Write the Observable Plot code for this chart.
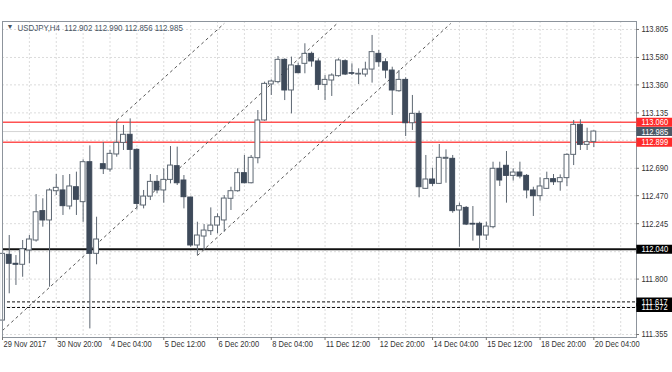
<!DOCTYPE html>
<html>
<head>
<meta charset="utf-8">
<script src="https://cdn.jsdelivr.net/npm/d3@7"></script>
<script src="https://cdn.jsdelivr.net/npm/@observablehq/plot@0.6"></script>
<style>
  html, body { margin: 0; padding: 0; background: #fff; }
  #chart svg { display: block; }
</style>
</head>
<body>
<div id="chart"></div>
<script>
// ---- data (USDJPY H4, bar index 0..88) ----
const opens  = [111.467,111.995,111.923,111.915,112.030,112.110,112.346,112.271,112.506,112.512,
                112.383,112.538,112.418,112.739,112.003,112.723,112.680,112.801,112.894,112.959,
                112.838,112.391,112.463,112.581,112.512,112.597,112.707,112.592,112.455,112.070,
                112.142,112.185,112.230,112.271,112.445,112.506,112.651,112.570,112.771,113.074,
                113.363,113.382,113.561,113.315,113.510,113.529,113.609,113.548,113.360,113.395,
                113.430,113.550,113.454,113.443,113.443,113.483,113.609,113.542,113.475,113.309,
                113.400,113.052,113.127,112.525,112.600,112.565,112.766,112.766,112.351,112.372,
                112.244,112.244,112.150,112.217,112.686,112.710,112.629,112.656,112.629,112.512,
                112.466,112.525,112.603,112.578,112.611,112.798,113.039,112.878,112.902];
const highs  = [112.030,112.150,111.989,112.110,112.150,112.479,112.445,112.525,112.640,112.632,
                112.640,112.659,112.758,112.870,112.297,112.897,112.833,113.074,113.034,113.087,
                112.846,112.512,112.640,112.632,112.686,112.865,112.860,112.632,112.458,112.257,
                112.238,112.372,112.324,112.471,112.538,112.686,112.793,112.793,113.154,113.382,
                113.400,113.588,113.569,113.583,113.534,113.690,113.623,113.569,113.435,113.449,
                113.569,113.561,113.529,113.489,113.542,113.757,113.636,113.569,113.502,113.475,
                113.417,113.275,113.149,112.793,112.691,112.881,112.838,112.793,112.410,112.383,
                112.383,112.257,112.257,112.739,112.739,112.825,112.686,112.739,112.640,112.538,
                112.613,112.659,112.640,112.637,112.806,113.074,113.079,113.012,112.990];
const lows   = [111.454,111.682,111.749,111.815,111.923,112.097,112.217,111.735,112.471,112.311,
                112.356,112.311,112.257,111.400,111.915,112.640,112.659,112.779,112.833,112.678,
                112.356,112.364,112.431,112.485,112.410,112.565,112.552,112.364,112.056,111.989,
                112.030,112.150,112.164,112.177,112.351,112.498,112.565,112.565,112.726,113.068,
                113.275,113.368,113.234,113.127,113.449,113.449,113.502,113.315,113.234,113.267,
                113.422,113.435,113.435,113.363,113.422,113.374,113.502,113.409,113.114,113.301,
                112.945,112.994,112.453,112.520,112.544,112.560,112.570,112.329,112.056,112.230,
                112.105,112.030,112.110,112.204,112.544,112.410,112.587,112.605,112.445,112.303,
                112.426,112.520,112.552,112.506,112.544,112.712,112.833,112.833,112.856];
const closes = [112.003,111.923,111.915,112.040,112.118,112.337,112.271,112.512,112.533,112.386,
                112.544,112.437,112.739,112.003,112.118,112.683,112.806,112.894,112.959,112.838,
                112.404,112.463,112.581,112.512,112.597,112.712,112.570,112.458,112.070,112.150,
                112.190,112.230,112.297,112.447,112.506,112.651,112.570,112.774,113.074,113.368,
                113.387,113.561,113.315,113.516,113.454,113.609,113.548,113.360,113.400,113.435,
                113.556,113.443,113.449,113.449,113.483,113.623,113.542,113.475,113.315,113.400,
                113.052,113.127,112.538,112.600,112.565,112.774,112.774,112.346,112.386,112.238,
                112.238,112.150,112.222,112.686,112.592,112.629,112.656,112.624,112.512,112.466,
                112.544,112.603,112.578,112.611,112.798,113.039,112.878,112.900,112.985];

const dateLabels = ["29 Nov 2017","30 Nov 20:00","4 Dec 04:00","5 Dec 12:00","6 Dec 20:00","8 Dec 04:00",
                    "11 Dec 12:00","12 Dec 20:00","14 Dec 04:00","15 Dec 12:00","18 Dec 20:00","20 Dec 04:00"];
const dateLabelBars = [0,8,16,24,32,40,48,56,64,72,80,88];
const gridBars = [0,4,8,12,16,20,24,28,32,36,40,44,48,52,56,60,64,68,72,76,80,84,88,92];

const priceGrid   = [113.805,113.580,113.360,113.135,112.915,112.690,112.470,112.245,112.020,111.800,111.575,111.355];
const priceLabels = [113.805,113.580,113.360,113.135,112.690,112.470,112.245,111.800,111.355];

const currentPrice = 112.985;
const redLevels = [113.060, 112.899];
const supportLevel = 112.040;
const dashedLevels = [111.617, 111.572];

// trend lines: [startBar, startPrice, endBar, endPrice]
const trendStartBar  = [0, 17, 29];
const trendStartPx   = [111.387, 113.074, 111.989];
const trendEndBar    = [49.8, 33.0, 66.7];
const trendEndPx     = [113.853, 113.853, 113.853];

const title = "USDJPY,H4  112.902 112.990 112.856 112.985";

// ---- build ----
const X0 = 0, X1 = 94.35;
const Y0 = 111.331, Y1 = 113.869;
const bars = opens.map((o, i) => ({i, o, h: highs[i], l: lows[i], c: closes[i], up: closes[i] >= o}));
const trends = trendStartBar.map((b, k) => ({x1: b, y1: trendStartPx[k], x2: trendEndBar[k], y2: trendEndPx[k]}));
const pxPerBar = 634 / (X1 - X0);
const boxW = 36 / pxPerBar;
const tickW = 3 / pxPerBar;

const boxes = [
  {v: 111.572, fill: "#000"},
  {v: 111.617, fill: "#000"},
  {v: supportLevel, fill: "#000"},
  {v: 113.060, fill: "#ff2a2a"},
  {v: currentPrice, fill: "#4b5866"},
  {v: 112.899, fill: "#ff2a2a"}
];

const FONT = "'Liberation Sans', Arial, sans-serif";
const gridColor = "#dcdcdc";
const candleDark = "#3e4a5a";
const candleLine = "#5d6772";

const chart = Plot.plot({
  width: 672, height: 372,
  marginLeft: 2, marginRight: 36, marginTop: 21, marginBottom: 35,
  x: {domain: [X0, X1], axis: null},
  y: {domain: [Y0, Y1], axis: null},
  style: {background: "#fff", fontFamily: FONT, fontSize: "9.3px", overflow: "visible"},
  marks: [
    Plot.ruleY(priceGrid, {stroke: gridColor, strokeDasharray: "2,2"}),
    Plot.ruleX(gridBars, {stroke: gridColor, strokeDasharray: "2,2"}),
    Plot.ruleY([currentPrice], {stroke: "#d4d4d4"}),
    Plot.ruleY(redLevels, {stroke: "#ff5252", strokeWidth: 1.6}),
    Plot.ruleY([supportLevel], {stroke: "#111", strokeWidth: 2}),
    Plot.ruleY(dashedLevels, {stroke: "#111", strokeDasharray: "3,2"}),
    Plot.link(trends, {x1: "x1", y1: "y1", x2: "x2", y2: "y2", stroke: "#555", strokeDasharray: "3,3", clip: true}),
    Plot.ruleX(bars, {x: "i", y1: "l", y2: "h", stroke: candleLine, strokeWidth: 1}),
    Plot.rect(bars, {x1: d => d.i - 0.36, x2: d => d.i + 0.36, y1: "o", y2: "c",
                     fill: d => d.up ? "#fff" : candleDark, stroke: d => d.up ? candleLine : candleDark, strokeWidth: 1}),
    Plot.frame({stroke: "#8d949c"}),
    // right axis ticks + labels
    Plot.ruleY(priceLabels, {x1: X1, x2: X1 + tickW, stroke: "#777"}),
    Plot.text(priceLabels, {x: X1, y: d => d, text: d => d.toFixed(3), textAnchor: "start", dx: 5, fill: "#333"}),
    Plot.ruleY(boxes, {y: "v", x1: X1 + 0.05, x2: X1 + boxW, stroke: "fill", strokeWidth: 9}),
    Plot.text(boxes, {x: X1, y: "v", text: d => d.v.toFixed(3), textAnchor: "start", dx: 5, fill: "#fff"}),
    // bottom axis ticks + labels
    Plot.ruleX(dateLabelBars, {y1: Y0, y2: Y0 - 3 / 124.5, stroke: "#777"}),
    Plot.text(dateLabelBars, {x: d => d, y: Y0, text: (d, i) => dateLabels[i], textAnchor: "start", dx: 1, dy: 7, fill: "#333"}),
    // title
    Plot.text([title], {frameAnchor: "top-left", dx: 15, dy: 2.5, fill: "#4a5563", textAnchor: "start", className: "ttl"}),
    Plot.text(["▼"], {frameAnchor: "top-left", dx: 4, dy: 3, fill: "#4a5563", fontSize: 7, textAnchor: "start"})
  ]
});
document.getElementById("chart").appendChild(chart);
// condense glyphs horizontally (narrow terminal-style font), scaling about each text's left edge
const NS = "http://www.w3.org/2000/svg";
Array.from(chart.querySelectorAll("text")).forEach(t => {
  const r = t.getBoundingClientRect();
  if (r.width <= 8) return;
  const k = t.closest(".ttl") ? 0.85 : 0.81;
  const parent = t.parentNode;
  const m = parent.getScreenCTM();
  const ax = (r.left - m.e) / m.a;
  const g = document.createElementNS(NS, "g");
  g.setAttribute("transform", `translate(${ax.toFixed(2)},0) scale(${k},1) translate(${(-ax).toFixed(2)},0)`);
  parent.insertBefore(g, t);
  g.appendChild(t);
});
</script>
</body>
</html>
